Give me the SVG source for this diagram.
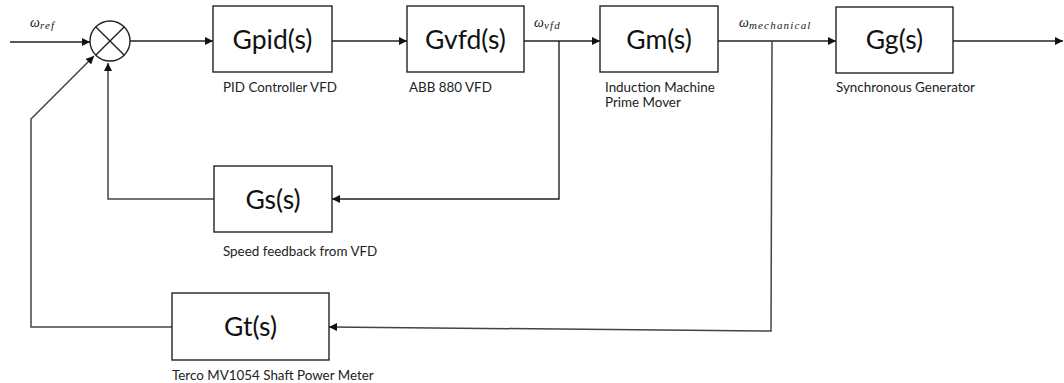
<svg xmlns="http://www.w3.org/2000/svg" width="1064" height="383" viewBox="0 0 1064 383">
<style>
.box{fill:#fff;stroke:#222;stroke-width:1.4}
.ln{fill:none;stroke:#222;stroke-width:1.4}
.fb{fill:none;stroke:#444;stroke-width:1.5}
.bt{font-family:Lato,"Open Sans",sans-serif;font-size:26.5px;fill:#111;text-anchor:middle}
.lb{font-family:Lato,"Open Sans",sans-serif;font-size:13.4px;fill:#222}
.om{font-family:"Liberation Serif","DejaVu Serif",serif;font-style:italic;font-size:14px;fill:#222}
.sub{font-size:11px;letter-spacing:1.2px}
</style>
<defs>
<marker id="ah" viewBox="0 0 10 10" refX="10" refY="5" markerWidth="8" markerHeight="8" markerUnits="userSpaceOnUse" orient="auto">
<path d="M0,0 L10,5 L0,10 z" fill="#111"/>
</marker>
</defs>
<rect width="1064" height="383" fill="#fff"/>
<g id="connectors">
<line class="ln" x1="10" y1="42" x2="90" y2="42" marker-end="url(#ah)"/>
<line class="ln" x1="130" y1="41" x2="213" y2="41" marker-end="url(#ah)"/>
<line class="ln" x1="332" y1="41" x2="407" y2="41" marker-end="url(#ah)"/>
<line class="ln" x1="524" y1="41" x2="600" y2="41" marker-end="url(#ah)"/>
<line class="ln" x1="718" y1="41" x2="836" y2="41" marker-end="url(#ah)"/>
<line class="ln" x1="953" y1="41" x2="1063" y2="41" marker-end="url(#ah)"/>
<polyline class="ln" points="559,41 559,199 332,199" marker-end="url(#ah)"/>
<polyline class="fb" points="214,199 108,199 108,63" marker-end="url(#ah)"/>
<polyline class="fb" points="772,41 771,331 329,327" marker-end="url(#ah)"/>
<polyline class="fb" points="172,327 31,327 31,119 94,56" marker-end="url(#ah)"/>
</g>
<g id="sum">
<circle cx="110" cy="41" r="20" fill="#fff" stroke="#222" stroke-width="1.4"/>
<line class="ln" x1="95.9" y1="26.9" x2="124.1" y2="55.1"/>
<line class="ln" x1="124.1" y1="26.9" x2="95.9" y2="55.1"/>
</g>
<g id="label-wref"><text class="om" x="30" y="27">ω<tspan class="sub" dy="2">ref</tspan></text></g>
<g id="gpid">
<rect class="box" x="213" y="6" width="119" height="66"/>
<text class="bt" x="272.5" y="49">Gpid(s)</text>
<text class="lb" x="223" y="92">PID Controller VFD</text>
</g>
<g id="gvfd">
<rect class="box" x="407" y="6" width="117" height="66"/>
<text class="bt" x="465.5" y="49">Gvfd(s)</text>
<text class="lb" x="409" y="92">ABB 880 VFD</text>
</g>
<g id="label-wvfd"><text class="om" x="534" y="27">ω<tspan class="sub" dy="2">vfd</tspan></text></g>
<g id="gm">
<rect class="box" x="600" y="6" width="118" height="66"/>
<text class="bt" x="659" y="49">Gm(s)</text>
<text class="lb" x="605" y="92">Induction Machine</text>
<text class="lb" x="605" y="107">Prime Mover</text>
</g>
<g id="label-wmech"><text class="om" x="739" y="27">ω<tspan class="sub" dy="2">mechanical</tspan></text></g>
<g id="gg">
<rect class="box" x="836" y="7" width="117" height="66"/>
<text class="bt" x="894.5" y="49">Gg(s)</text>
<text class="lb" x="836" y="92">Synchronous Generator</text>
</g>
<g id="gs">
<rect class="box" x="214" y="166" width="118" height="66"/>
<text class="bt" x="273" y="209">Gs(s)</text>
<text class="lb" x="223" y="256">Speed feedback from VFD</text>
</g>
<g id="gt">
<rect class="box" x="172" y="293" width="157" height="67"/>
<text class="bt" x="250.5" y="336">Gt(s)</text>
<text class="lb" x="172" y="380">Terco MV1054 Shaft Power Meter</text>
</g>
</svg>
